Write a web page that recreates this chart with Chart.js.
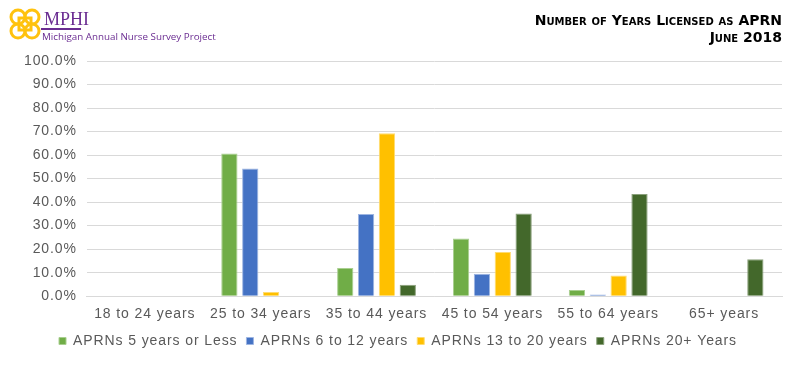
<!DOCTYPE html>
<html>
<head>
<meta charset="utf-8">
<script src="https://cdn.jsdelivr.net/npm/chart.js@4/dist/chart.umd.min.js"></script>
<style>
  html, body { margin: 0; padding: 0; background: #fff; }
  #wrap { position: relative; width: 804px; height: 377px; overflow: hidden; }
  #chart { position: absolute; left: 0; top: 0; }
  .logo { position: absolute; left: 8px; top: 7px; }
  .mphi { position: absolute; left: 44px; top: 9px; font-family: "Liberation Serif", serif; font-size: 18px; color: #6a2c91; }
  .bar { position: absolute; left: 41px; top: 28px; width: 40px; height: 2px; background: #6a2c91; }
  .sub { position: absolute; left: 42px; top: 30px; font-family: "Open Sans", sans-serif; font-size: 9.8px; color: #6a2c91; }
  .title { position: absolute; right: 22px; top: 12px; text-align: right; font-family: "DejaVu Sans", Verdana, sans-serif; font-weight: bold; font-variant: small-caps; font-size: 14px; line-height: 17px; color: #000; }
</style>
</head>
<body>
<div id="wrap">
  <canvas id="chart" width="804" height="377"></canvas>
  <svg class="logo" width="34" height="34" viewBox="0 0 34 34">
    <g fill="none" stroke="#ffc20e" stroke-width="3">
      <circle cx="10" cy="10" r="7"/>
      <circle cx="24" cy="10" r="7"/>
      <circle cx="10" cy="24" r="7"/>
      <circle cx="24" cy="24" r="7"/>
      <rect x="11" y="11" width="12" height="12"/>
    </g>
  </svg>
  <div class="mphi">MPHI</div>
  <div class="bar"></div>
  <div class="sub">Michigan Annual Nurse Survey Project</div>
  <div class="title">Number of Years Licensed as APRN<br>June 2018</div>
</div>
<script>
// 연령대
const ageGroups = ['18 to 24 years', '25 to 34 years', '35 to 44 years', '45 to 54 years', '55 to 64 years', '65+ years'];
// 면허 기간별 비율 (%)
const years5OrLess = [0, 60.7, 12.0, 24.5, 2.6, 0];
const years6to12 = [0, 54.3, 35.0, 9.5, 0.7, 0];
const years13to20 = [0, 1.8, 69.3, 18.8, 8.8, 0];
const years20Plus = [0, 0, 4.9, 35.2, 43.4, 15.7];
const yTicks = [0, 10, 20, 30, 40, 50, 60, 70, 80, 90, 100];

const ds = (label, data, color, border) => ({
  label, data, backgroundColor: color, borderColor: border, borderWidth: 1,
  categoryPercentage: 0.72, barPercentage: 0.78,
});

// 글자 간격 (원본 차트처럼 약간 넓게)
const spacing = {
  id: 'spacing',
  beforeLayout: (c) => { c.ctx.letterSpacing = '0.9px'; },
  beforeDraw: (c) => { c.ctx.letterSpacing = '0.9px'; },
};

new Chart(document.getElementById('chart'), {
  type: 'bar',
  data: {
    labels: ageGroups,
    datasets: [
      ds('APRNs 5 years or Less', years5OrLess, '#70ad47', '#a9cf90'),
      ds('APRNs 6 to 12 years', years6to12, '#4472c4', '#9db5e2'),
      ds('APRNs 13 to 20 years', years13to20, '#ffc000', '#ffdb70'),
      ds('APRNs 20+ Years', years20Plus, '#43682b', '#8aa07b'),
    ],
  },
  plugins: [spacing],
  options: {
    responsive: false, animation: false,
    layout: { padding: { top: 61, right: 22, left: 14, bottom: 19 } },
    plugins: {
      legend: {
        position: 'bottom',
        labels: { boxWidth: 7, boxHeight: 7, padding: 9, color: '#595959', font: { family: 'Liberation Sans', size: 14 } },
      },
      tooltip: { enabled: false },
    },
    scales: {
      x: {
        grid: { display: false },
        border: { color: '#d9d9d9' },
        ticks: { color: '#595959', font: { family: 'Liberation Sans', size: 14 }, padding: 2 },
      },
      y: {
        min: 0, max: 100,
        afterBuildTicks: (axis) => { axis.ticks = yTicks.map((v) => ({ value: v })); },
        grid: { color: '#d9d9d9', drawTicks: false },
        border: { display: false },
        ticks: { color: '#595959', font: { family: 'Liberation Sans', size: 14 }, padding: 10, callback: (v) => v.toFixed(1) + '%' },
      },
    },
  },
});
</script>
</body>
</html>
